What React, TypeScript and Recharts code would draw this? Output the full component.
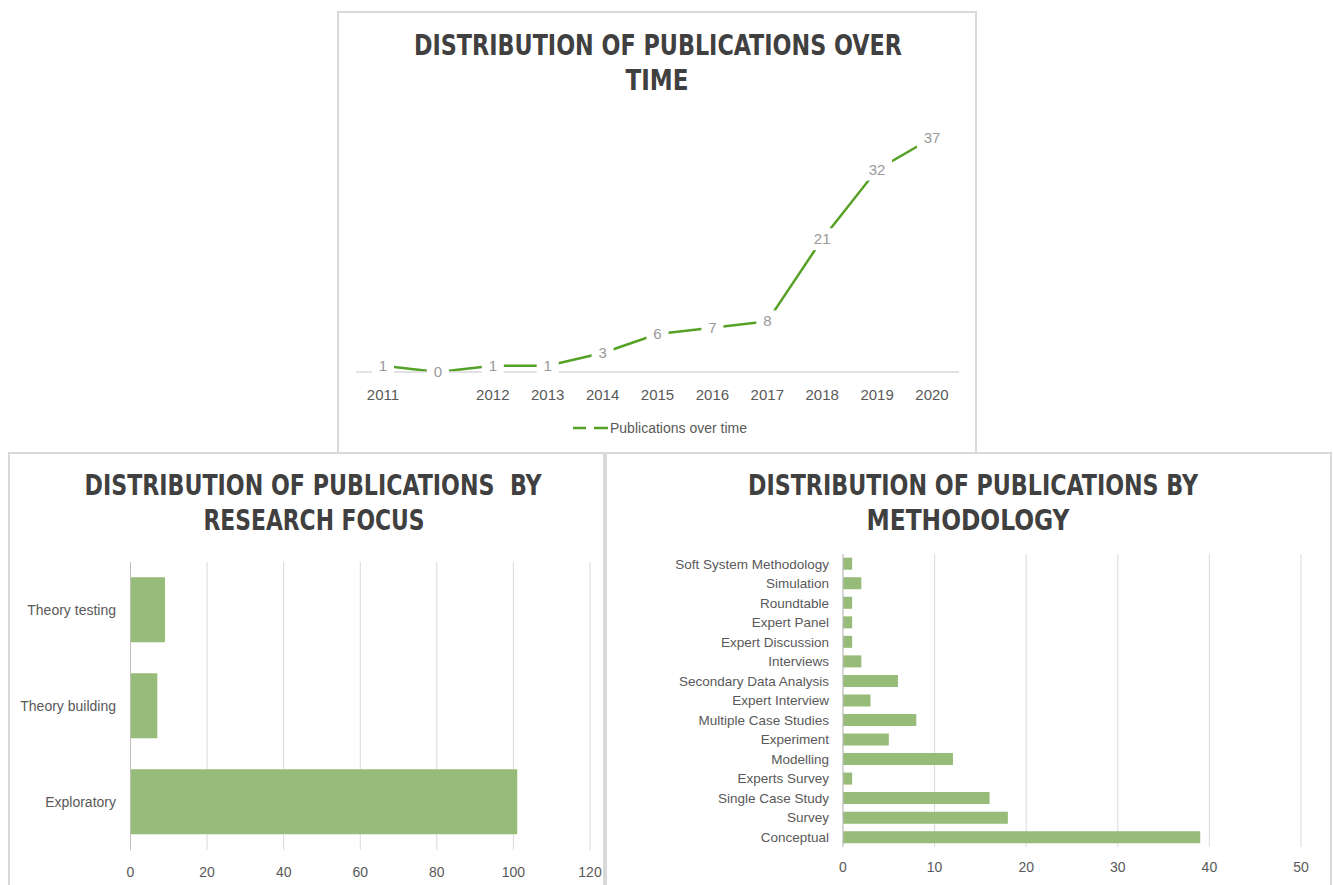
import React from 'react';
import {
  LineChart,
  Line,
  XAxis,
  YAxis,
  Legend,
  LabelList,
  BarChart,
  Bar,
  CartesianGrid,
} from 'recharts';

// publications over time
const years = ['2011', '', '2012', '2013', '2014', '2015', '2016', '2017', '2018', '2019', '2020'];
const publications = [1, 0, 1, 1, 3, 6, 7, 8, 21, 32, 37];

// research focus
const focusCategories = ['Theory testing', 'Theory building', 'Exploratory'];
const focusCounts = [9, 7, 101];
const focusTicks = [0, 20, 40, 60, 80, 100, 120];

// methodology
const methodCategories = [
  'Soft System Methodology',
  'Simulation',
  'Roundtable',
  'Expert Panel',
  'Expert Discussion',
  'Interviews',
  'Secondary Data Analysis',
  'Expert Interview',
  'Multiple Case Studies',
  'Experiment',
  'Modelling',
  'Experts Survey',
  'Single Case Study',
  'Survey',
  'Conceptual',
];
const methodCounts = [1, 2, 1, 1, 1, 2, 6, 3, 8, 5, 12, 1, 16, 18, 39];
const methodTicks = [0, 10, 20, 30, 40, 50];

const FONT = "'Liberation Sans', Arial, sans-serif";
const TITLE_FONT = "'DejaVu Sans Condensed', 'Liberation Sans', sans-serif";
const LINE_GREEN = '#55a126';
const BAR_GREEN = '#97bb79';
const GRID = '#d9d9d9';
const TICK = '#595959';
const TITLE = '#404040';

const timeData = years.map((year, i) => ({ year, count: publications[i] }));
const focusData = focusCategories.map((name, i) => ({ name, value: focusCounts[i] }));
const methodData = methodCategories.map((name, i) => ({ name, value: methodCounts[i] }));

// Excel style label: sits on the point and cuts the line around it
const PointLabel = (props: any) => {
  const { x, y, value } = props;
  const text = String(value);
  const w = text.length * 8 + 14;
  return (
    <g>
      <rect x={x - w / 2} y={y - 11} width={w} height={22} fill="#fff" />
      <text x={x} y={y} dy={5} textAnchor="middle" fill="#999" fontSize={15} fontFamily={FONT}>
        {text}
      </text>
    </g>
  );
};

const TimeLegend = () => (
  <svg width={180} height={24} style={{ display: 'block' }}>
    <line x1={0} y1={12} x2={13} y2={12} stroke={LINE_GREEN} strokeWidth={2.5} />
    <line x1={21} y1={12} x2={35} y2={12} stroke={LINE_GREEN} strokeWidth={2.5} />
    <text x={37} y={17} fill={TICK} fontSize={14} fontFamily={FONT}>
      Publications over time
    </text>
  </svg>
);

const titles = [
  { text: 'DISTRIBUTION OF PUBLICATIONS OVER', x: 658, y: 55, w: 488 },
  { text: 'TIME', x: 657, y: 90, w: 63 },
  { text: 'DISTRIBUTION OF PUBLICATIONS  BY', x: 313, y: 495, w: 457 },
  { text: 'RESEARCH FOCUS', x: 314, y: 530, w: 221 },
  { text: 'DISTRIBUTION OF PUBLICATIONS BY', x: 973, y: 495, w: 450 },
  { text: 'METHODOLOGY', x: 968, y: 530, w: 203 },
];

export default function App() {
  const tick = { fill: TICK, fontSize: 14, fontFamily: FONT };
  return (
    <div style={{ position: 'fixed', left: 0, top: 0, width: 1333, height: 885, background: '#fff', overflow: 'hidden' }}>
      <svg width={1333} height={885} style={{ position: 'absolute', left: 0, top: 0 }}>
        <rect x={338} y={12} width={638} height={441} fill="none" stroke={GRID} strokeWidth={2} />
        <rect x={9} y={453} width={595} height={440} fill="none" stroke={GRID} strokeWidth={2} />
        <rect x={606} y={453} width={725} height={440} fill="none" stroke={GRID} strokeWidth={2} />
        {titles.map((t) => (
          <text
            key={t.text}
            x={t.x}
            y={t.y}
            textAnchor="middle"
            textLength={t.w}
            lengthAdjust="spacingAndGlyphs"
            fontSize={28}
            fontWeight="bold"
            fontFamily={TITLE_FONT}
            fill={TITLE}
            style={{ whiteSpace: 'pre' }}
          >
            {t.text}
          </text>
        ))}
      </svg>

      <div style={{ position: 'absolute', left: 338, top: 12 }}>
        <LineChart width={638} height={441} data={timeData} margin={{ top: 107, right: 17, bottom: 51, left: 18 }}>
          <XAxis
            dataKey="year"
            interval={0}
            padding={{ left: 27, right: 27 }}
            tickLine={false}
            axisLine={{ stroke: GRID, strokeWidth: 1.5 }}
            tick={{ ...tick, fontSize: 15 }}
            tickMargin={11}
            height={30}
          />
          <YAxis hide domain={[0, 40]} />
          <Line
            dataKey="count"
            type="linear"
            stroke={LINE_GREEN}
            strokeWidth={2.5}
            dot={false}
            isAnimationActive={false}
          >
            <LabelList dataKey="count" content={PointLabel} />
          </Line>
          <Legend
            layout="horizontal"
            verticalAlign="middle"
            align="center"
            wrapperStyle={{ position: 'absolute', left: 235, top: 404, width: 180, height: 24 }}
            content={TimeLegend}
          />
        </LineChart>
      </div>

      <div style={{ position: 'absolute', left: 10, top: 452 }}>
        <BarChart
          width={594}
          height={433}
          data={focusData}
          layout="vertical"
          margin={{ top: 110, right: 14, bottom: 5, left: 0 }}
          barCategoryGap="16%"
        >
          <CartesianGrid horizontal={false} stroke={GRID} />
          <XAxis
            type="number"
            domain={[0, 120]}
            ticks={focusTicks}
            tickLine={false}
            axisLine={false}
            tick={tick}
            tickMargin={11}
            height={30}
          />
          <YAxis
            type="category"
            dataKey="name"
            width={120.5}
            interval={0}
            tickLine={false}
            axisLine={{ stroke: '#bfbfbf' }}
            tick={tick}
            tickMargin={8.5}
          />
          <Bar dataKey="value" fill={BAR_GREEN} isAnimationActive={false} />
        </BarChart>
      </div>

      <div style={{ position: 'absolute', left: 605, top: 452 }}>
        <BarChart
          width={725}
          height={433}
          data={methodData}
          layout="vertical"
          margin={{ top: 102, right: 29, bottom: 8, left: 0 }}
          barCategoryGap="19%"
        >
          <CartesianGrid horizontal={false} stroke={GRID} />
          <XAxis
            type="number"
            domain={[0, 50]}
            ticks={methodTicks}
            tickLine={false}
            axisLine={false}
            tick={tick}
            tickMargin={9}
            height={30}
          />
          <YAxis
            type="category"
            dataKey="name"
            width={238}
            interval={0}
            tickLine={false}
            axisLine={{ stroke: '#bfbfbf' }}
            tick={{ ...tick, fontSize: 13.5 }}
            tickMargin={8}
          />
          <Bar dataKey="value" fill={BAR_GREEN} isAnimationActive={false} />
        </BarChart>
      </div>
    </div>
  );
}
